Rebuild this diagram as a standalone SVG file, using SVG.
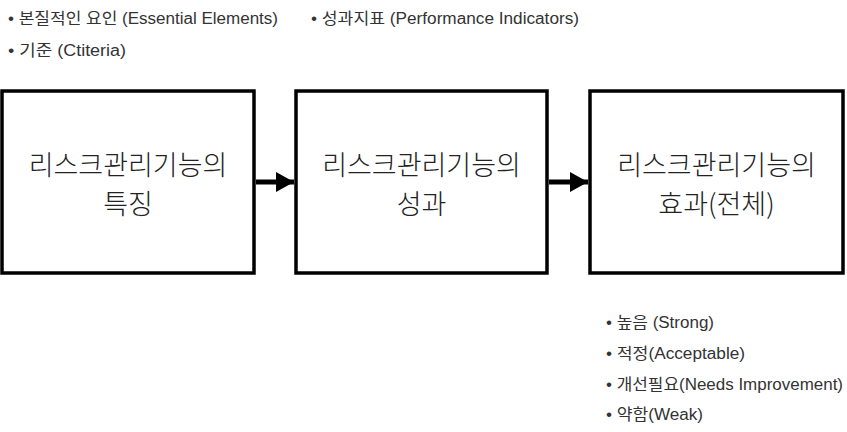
<svg xmlns="http://www.w3.org/2000/svg" width="847" height="432" viewBox="0 0 847 432">
<style>
.box{fill:#fff;stroke:#000;stroke-width:3.5}
.t{font-family:"Noto Sans CJK KR","Liberation Sans",sans-serif;font-size:27px;font-weight:300;fill:#222;text-anchor:middle}
.s{font-family:"Liberation Sans","Noto Sans CJK KR",sans-serif;font-size:16px;fill:#333}
.c{stroke:#000;stroke-width:5;fill:none}
</style>
<defs>
<marker id="ah" markerUnits="userSpaceOnUse" markerWidth="20" markerHeight="22" refX="18" refY="10" orient="auto">
<path d="M0,0 L18,10 L0,20 Z" fill="#000"/>
</marker>
</defs>
<rect width="847" height="432" fill="#fff"/>
<g id="labels-top">
<text class="s" x="8" y="24" textLength="270" lengthAdjust="spacingAndGlyphs">• 본질적인 요인 (Essential Elements)</text>
<text class="s" x="311" y="24" textLength="268" lengthAdjust="spacingAndGlyphs">• 성과지표 (Performance Indicators)</text>
<text class="s" x="8" y="56" textLength="118" lengthAdjust="spacingAndGlyphs">• 기준 (Ctiteria)</text>
</g>
<g id="node1">
<rect class="box" x="2" y="91" width="252" height="182"/>
<text class="t" x="128" y="175">리스크관리기능의</text>
<text class="t" x="128" y="214">특징</text>
</g>
<g id="node2">
<rect class="box" x="296" y="91" width="251" height="182"/>
<text class="t" x="421.5" y="175">리스크관리기능의</text>
<text class="t" x="421.5" y="214">성과</text>
</g>
<g id="node3">
<rect class="box" x="590" y="91" width="253" height="182"/>
<text class="t" x="716.5" y="175">리스크관리기능의</text>
<text class="t" x="716.5" y="214">효과(전체)</text>
</g>
<g id="connectors">
<line class="c" x1="256" y1="182" x2="294" y2="182" marker-end="url(#ah)"/>
<line class="c" x1="549" y1="182" x2="588" y2="182" marker-end="url(#ah)"/>
</g>
<g id="labels-bottom">
<text class="s" x="606" y="328" textLength="108" lengthAdjust="spacingAndGlyphs">• 높음 (Strong)</text>
<text class="s" x="606" y="359" textLength="139" lengthAdjust="spacingAndGlyphs">• 적정(Acceptable)</text>
<text class="s" x="606" y="390" textLength="237" lengthAdjust="spacingAndGlyphs">• 개선필요(Needs Improvement)</text>
<text class="s" x="606" y="420" textLength="97" lengthAdjust="spacingAndGlyphs">• 약함(Weak)</text>
</g>
</svg>
